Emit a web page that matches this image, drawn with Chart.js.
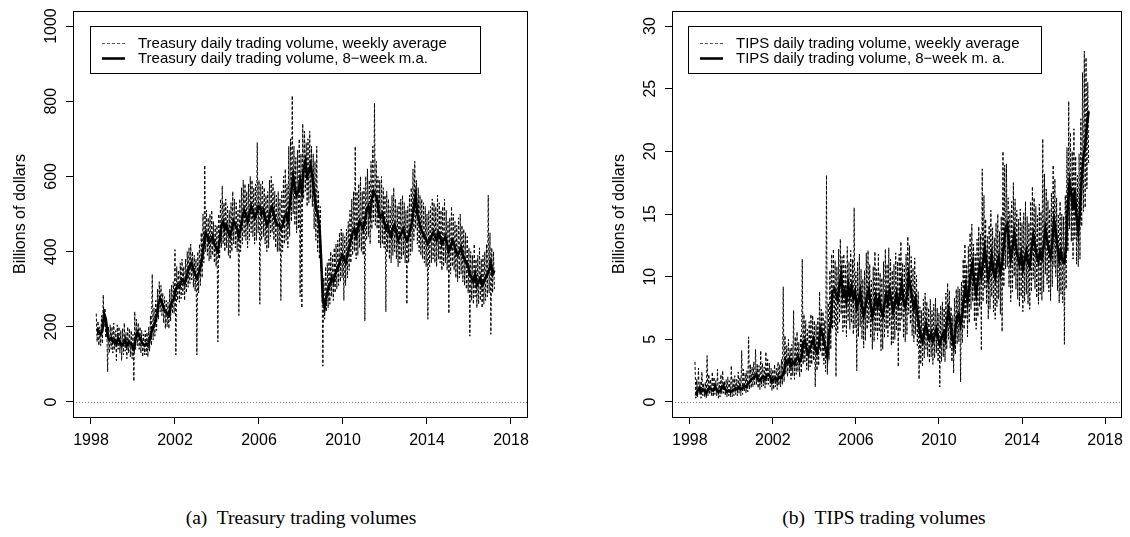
<!DOCTYPE html>
<html>
<head>
<meta charset="utf-8">
<script src="https://cdn.jsdelivr.net/npm/chart.js@4.4.1/dist/chart.umd.min.js"></script>
<style>
  html, body { margin: 0; padding: 0; background: #ffffff; }
  #wrap { position: relative; width: 1130px; height: 537px; overflow: hidden; background: #fff; }
  .panel { position: absolute; top: 0; height: 470px; }
  #p1 { left: 0; width: 560px; }
  #p2 { left: 560px; width: 570px; }
  .cap { position: absolute; top: 506px; font-family: "Liberation Serif", "DejaVu Serif", serif; font-size: 19.5px; line-height: 24px; color: #000; text-align: center; white-space: nowrap; }
  #cap1 { left: 0; width: 602px; }
  #cap2 { left: 638px; width: 492px; }
</style>
</head>
<body>
<div id="wrap">
  <div class="panel" id="p1"><canvas id="c1" width="560" height="470"></canvas></div>
  <div class="panel" id="p2"><canvas id="c2" width="570" height="470"></canvas></div>
  <div class="cap" id="cap1">(a)&nbsp; Treasury trading volumes</div>
  <div class="cap" id="cap2">(b)&nbsp; TIPS trading volumes</div>
</div>
<script>
// ---------------- DATA (monthly, April 1998 - March 2017) ----------------
const firstMonth = 1998 + 3 / 12;   // April 1998
const xTicks = [1998, 2002, 2006, 2010, 2014, 2018];
const tsyYTicks = [0, 200, 400, 600, 800, 1000];
const tipsYTicks = [0, 5, 10, 15, 20, 25, 30];
const tsyLabels = ["Treasury daily trading volume, weekly average", "Treasury daily trading volume, 8\u2212week m.a."];
const tipsLabels = ["TIPS daily trading volume, weekly average", "TIPS daily trading volume, 8\u2212week m. a."];
const yTitle = "Billions of dollars";

// Treasury: 8-week moving average
const tsyMA = [
  195,185,180,190,235,220,175,165,170,
  160,165,155,170,160,150,155,165,150,160,155,150,
  140,170,185,175,165,155,150,155,150,165,185,200,
  210,230,260,275,265,250,240,235,230,255,270,275,
  300,310,305,320,325,315,330,350,360,370,350,340,
  330,340,360,380,420,450,440,425,430,440,420,410,
  400,430,470,480,460,470,450,440,460,480,470,460,
  440,460,490,510,500,480,500,520,510,490,500,520,
  520,500,510,490,470,480,510,520,500,480,470,470,
  460,470,490,500,480,520,560,600,570,550,560,590,
  560,620,640,600,610,630,600,560,520,500,470,380,
  270,250,280,300,310,330,320,340,350,360,380,390,
  380,370,390,410,430,450,460,440,460,480,470,460,
  480,510,520,500,540,560,550,540,500,490,500,480,
  460,470,450,440,460,470,450,430,440,450,460,440,
  430,440,460,480,520,550,500,480,460,450,440,430,
  420,430,440,450,440,430,450,440,420,430,440,420,
  400,410,430,420,400,390,400,410,390,380,370,360,
  340,330,320,340,310,320,330,310,320,330,340,350,
  370,340,350
];
// Treasury: weekly averages (highest and lowest week in each month)
const tsyWeekHi = [
  235,215,200,230,285,250,210,200,205,
  200,210,190,205,200,190,195,210,185,200,195,190,
  180,240,220,210,200,190,180,190,185,200,230,340,
  250,270,300,320,310,290,280,270,265,300,310,320,
  405,360,350,370,380,360,380,400,410,420,400,390,
  380,400,420,450,500,630,510,490,500,510,480,470,
  470,500,540,575,530,540,520,510,530,560,540,530,
  510,540,570,590,580,560,580,600,590,570,580,690,
  590,580,590,570,550,560,590,600,580,560,550,560,
  540,560,600,620,580,680,700,815,680,650,670,700,
  660,740,720,690,700,720,680,660,640,680,560,520,
  340,330,360,370,380,400,390,410,420,430,450,460,
  450,440,460,480,510,540,560,680,560,580,600,560,
  570,600,620,590,640,680,795,640,600,590,600,570,
  550,560,540,520,550,570,540,520,530,540,550,530,
  510,520,550,570,620,640,590,570,550,540,530,520,
  500,510,520,540,530,520,550,530,510,520,540,510,
  480,490,520,500,480,470,490,500,470,460,450,440,
  410,400,390,420,380,390,410,380,390,400,420,550,
  450,410,400
];
const tsyWeekLo = [
  160,150,150,155,200,170,80,130,140,
  130,140,110,140,130,110,125,135,115,130,120,115,
  55,140,150,140,130,120,125,125,120,135,150,165,
  175,190,220,240,230,210,195,200,195,215,235,235,
  125,270,265,275,285,270,290,305,315,325,305,295,
  125,290,310,330,370,400,390,375,380,390,370,360,
  160,380,410,420,400,410,390,380,400,420,410,400,
  230,400,420,440,430,410,430,450,440,420,430,450,
  260,430,440,420,400,410,440,450,430,410,400,400,
  270,400,420,430,410,440,480,500,470,450,460,280,
  250,540,560,520,530,540,520,460,430,400,380,350,
  95,220,240,250,260,280,270,290,300,310,320,330,
  270,310,330,350,370,390,400,380,390,410,400,390,
  215,430,440,420,460,480,470,460,420,410,420,410,
  240,400,380,370,390,400,380,360,370,380,390,370,
  260,370,390,400,430,460,420,400,390,380,370,360,
  220,360,370,380,370,360,380,370,350,360,370,350,
  235,340,360,350,330,320,330,340,320,310,300,290,
  175,270,260,280,250,260,270,250,260,270,280,290,
  180,290,300
];

// TIPS: 8-week moving average
const tipsMA = [
  0.5,0.9,1.1,0.8,1.0,0.9,0.7,1.0,1.1,
  1.0,0.9,1.2,1.0,0.8,0.9,1.1,1.3,1.0,0.8,0.9,0.8,
  0.9,1.0,1.1,1.0,1.2,1.0,1.1,1.3,1.2,1.4,1.6,1.8,
  1.9,2.0,2.2,1.8,1.7,1.9,2.0,1.8,2.1,2.2,2.0,1.6,
  1.8,1.9,1.7,2.0,1.9,2.1,2.4,3.3,3.1,3.4,2.9,3.2,
  3.0,3.4,3.6,3.2,3.5,4.8,4.9,4.2,3.8,4.3,4.6,5.0,
  4.2,3.9,4.4,5.9,5.5,4.8,4.3,3.6,5.5,6.2,8.8,9.0,
  8.6,8.2,9.3,10.2,8.5,8.9,8.0,9.4,8.5,9.2,8.3,8.8,
  7.5,8.0,8.8,7.7,6.9,7.6,8.5,9.0,7.8,6.8,7.5,8.4,
  7.6,8.3,7.4,6.9,7.8,8.6,7.9,8.9,8.1,7.2,7.8,8.6,
  7.8,8.5,9.5,8.0,7.6,8.4,10.1,9.2,8.3,7.5,8.2,7.0,
  6.0,5.2,4.8,5.6,6.2,5.4,5.0,5.5,4.9,5.3,5.8,5.1,
  4.6,5.1,5.5,5.0,6.2,7.3,6.5,5.2,4.5,5.8,6.8,7.0,
  6.2,7.0,8.4,9.3,8.0,9.1,10.4,11.1,9.4,8.6,9.8,10.8,
  10.0,11.2,12.3,11.0,9.8,10.6,11.7,10.4,9.9,10.9,11.5,10.3,
  11.0,12.5,13.9,14.2,12.6,11.4,12.2,13.5,12.4,11.6,11.0,11.8,
  10.6,11.3,12.0,11.1,10.8,12.2,13.3,12.5,11.7,11.2,12.0,11.5,
  12.4,13.8,12.9,12.2,11.6,12.7,14.5,13.6,12.4,11.3,12.0,11.2,
  11.1,12.5,15.8,17.5,16.6,15.3,16.9,14.8,13.6,15.2,17.9,19.5,
  20.4,22.1,23.2
];
// TIPS: weekly averages (highest and lowest week in each month)
const tipsWeekHi = [
  3.2,1.8,2.7,1.6,2.4,1.5,1.6,3.7,2.2,
  1.8,2.4,2.0,1.7,2.6,1.6,2.2,2.5,1.7,1.8,2.0,1.7,
  2.9,1.9,2.1,1.8,2.4,2.0,4.1,2.6,2.3,2.5,5.2,3.0,
  2.8,3.2,4.2,3.0,2.9,4.1,3.1,2.8,4.0,3.4,3.1,2.7,
  2.6,3.0,2.7,3.2,3.0,3.4,9.2,5.3,4.5,5.0,4.3,4.6,
  7.3,5.2,5.6,4.8,5.3,11.4,7.0,6.5,5.8,6.4,7.0,6.9,
  6.5,6.2,6.7,8.8,7.4,7.2,6.5,18.1,7.9,10.5,11.8,12.2,
  11.3,10.8,12.2,13.0,11.6,11.8,11.0,12.4,11.2,12.1,11.4,15.5,
  10.4,11.2,11.8,10.6,9.8,10.5,11.9,12.1,11.0,9.7,10.8,12.0,
  10.6,11.8,10.3,9.9,11.2,12.2,11.0,12.3,11.4,10.5,11.0,11.9,
  11.2,11.8,12.8,11.1,10.9,11.8,13.2,12.5,11.6,10.7,11.5,10.1,
  8.8,7.6,7.3,8.2,8.7,8.0,7.5,8.2,7.3,7.8,8.3,7.5,
  7.1,7.7,8.0,7.5,8.7,9.5,8.9,7.6,6.9,8.3,9.0,9.2,
  9.0,9.6,11.4,12.6,11.0,12.4,13.5,14.2,12.6,11.8,13.0,14.0,
  13.4,18.6,16.5,14.6,13.2,14.1,15.3,13.9,13.1,14.3,15.0,13.6,
  14.8,20.0,18.9,19.0,16.3,15.2,16.0,17.5,16.2,15.3,14.6,15.4,
  14.3,15.1,16.0,14.8,14.3,16.0,17.2,16.3,15.6,14.9,15.8,15.2,
  21.0,18.2,17.0,16.1,15.4,16.7,18.9,17.8,16.3,15.0,16.0,15.0,
  14.8,16.5,20.3,24.0,21.5,20.0,21.8,19.6,18.1,19.8,22.6,26.3,
  28.0,27.5,25.5
];
const tipsWeekLo = [
  0.3,0.4,0.6,0.3,0.5,0.4,0.3,0.5,0.6,
  0.5,0.4,0.6,0.5,0.3,0.4,0.6,0.7,0.5,0.4,0.5,0.4,
  0.4,0.5,0.6,0.5,0.7,0.5,0.6,0.8,0.7,0.8,1.0,1.1,
  1.2,1.3,1.4,1.1,1.0,1.2,1.3,1.1,1.4,1.4,1.2,0.9,
  1.0,1.2,1.0,1.3,1.2,1.4,1.6,2.2,2.0,2.3,1.8,2.1,
  1.8,2.2,2.4,2.0,2.3,3.0,3.2,2.6,2.5,2.8,3.0,3.3,
  1.2,2.5,2.9,4.0,3.6,3.0,2.4,2.2,3.4,4.2,5.8,6.0,
  2.0,5.5,6.3,7.0,5.6,6.0,5.2,6.5,5.8,6.3,5.4,5.9,
  2.5,5.2,6.0,5.0,4.3,4.9,5.8,6.3,5.1,4.2,4.8,5.6,
  5.0,5.6,4.1,4.2,5.1,5.8,5.2,6.0,4.5,4.7,5.0,5.7,
  2.8,5.6,6.6,5.1,4.8,5.4,7.0,6.2,5.3,4.8,5.4,4.5,
  1.8,3.0,2.8,3.5,4.2,3.6,3.1,3.6,3.0,3.5,3.9,3.2,
  1.2,3.2,3.6,3.2,4.2,5.0,4.3,3.2,2.3,3.8,4.6,4.8,
  1.6,4.7,5.8,6.6,5.2,6.3,7.4,8.0,6.4,5.8,6.8,7.6,
  4.1,8.0,9.0,7.8,6.6,7.4,8.4,7.2,6.6,7.6,8.2,7.0,
  5.6,9.2,10.6,10.8,9.2,8.0,8.8,10.0,9.0,8.2,7.6,8.4,
  7.2,8.0,8.6,7.8,7.4,8.8,9.8,9.0,8.3,7.8,8.6,8.1,
  8.8,10.2,9.4,8.8,8.1,9.2,10.8,10.0,8.9,7.9,8.6,7.9,
  4.6,9.0,12.0,13.8,12.8,11.4,13.0,11.0,10.8,11.4,14.0,15.2,
  15.5,17.0,19.0
];

// ---------------- BUILD ----------------
function monthX(i) { return firstMonth + i / 12; }
function weeklyPoints(hi, lo) {
  const pts = [];
  for (let i = 0; i < hi.length; i++) {
    pts.push({ x: monthX(i), y: hi[i] });
    pts.push({ x: monthX(i) + 1 / 24, y: lo[i] });
  }
  return pts;
}
function maPoints(ma) { return ma.map((v, i) => ({ x: monthX(i) + 1 / 24, y: v })); }

const FONT = '"Liberation Sans", Arial, Helvetica, sans-serif';

const rStyle = {
  id: 'rStyle',
  afterDatasetsDraw(chart, args, opts) {
    const ctx = chart.ctx, a = chart.chartArea, ys = chart.scales.y;
    ctx.save();
    // dotted zero line
    const y0 = Math.round(ys.getPixelForValue(0)) + 0.5;
    ctx.strokeStyle = '#777';
    ctx.lineWidth = 1;
    ctx.setLineDash([1, 2]);
    ctx.beginPath(); ctx.moveTo(a.left, y0); ctx.lineTo(a.right, y0); ctx.stroke();
    ctx.setLineDash([]);
    // box
    ctx.strokeStyle = '#000';
    ctx.lineWidth = 1;
    ctx.strokeRect(Math.round(a.left) + 0.5, Math.round(a.top) + 0.5, Math.round(a.right - a.left), Math.round(a.bottom - a.top));
    // rotated y tick labels
    ctx.fillStyle = '#000';
    ctx.font = '16px ' + FONT;
    ctx.textAlign = 'center';
    ctx.textBaseline = 'alphabetic';
    opts.yTicks.forEach(v => {
      const py = ys.getPixelForValue(v);
      ctx.save();
      ctx.translate(a.left - opts.tickLabelGap, py);
      ctx.rotate(-Math.PI / 2);
      ctx.fillText(String(v), 0, 0);
      ctx.restore();
    });
    // y title
    ctx.save();
    ctx.translate(a.left - opts.titleGap, (a.top + a.bottom) / 2);
    ctx.rotate(-Math.PI / 2);
    ctx.fillText(opts.title, 0, 0);
    ctx.restore();
    // legend box
    const L = opts.legend;
    ctx.fillStyle = '#fff';
    ctx.fillRect(L.x, L.y, L.w, L.h);
    ctx.strokeStyle = '#000';
    ctx.strokeRect(L.x + 0.5, L.y + 0.5, L.w, L.h);
    ctx.font = '15px ' + FONT;
    ctx.fillStyle = '#000';
    ctx.textAlign = 'left';
    ctx.textBaseline = 'middle';
    const ds = chart.data.datasets;
    const rows = [ds[1], ds[0]];
    rows.forEach((d, k) => {
      const cy = L.y + 17 + k * 15;
      ctx.save();
      ctx.strokeStyle = k === 0 ? '#555' : d.borderColor;
      ctx.lineWidth = d.borderWidth;
      ctx.setLineDash(d.borderDash || []);
      ctx.beginPath(); ctx.moveTo(L.x + 12, cy + 0.5); ctx.lineTo(L.x + 35, cy + 0.5); ctx.stroke();
      ctx.restore();
      ctx.fillText(d.label, L.x + 48, cy + 1);
    });
    ctx.restore();
  }
};

function makeChart(id, cfg) {
  return new Chart(document.getElementById(id), {
    type: 'line',
    data: {
      datasets: [
        { label: cfg.labels[1], data: maPoints(cfg.ma), borderColor: '#000', borderWidth: 2.6, pointRadius: 0, tension: 0, order: 0 },
        { label: cfg.labels[0], data: weeklyPoints(cfg.hi, cfg.lo), borderColor: '#000', borderWidth: 1, borderDash: [3, 2], pointRadius: 0, tension: 0, order: 1 }
      ]
    },
    options: {
      responsive: false,
      animation: false,
      events: [],
      layout: { padding: { top: 11, right: cfg.padRight, bottom: 0, left: 0 } },
      plugins: {
        legend: { display: false }, tooltip: { enabled: false },
        rStyle: { yTicks: cfg.yTicks, title: yTitle, tickLabelGap: 17, titleGap: 48, legend: cfg.legend }
      },
      scales: {
        x: {
          type: 'linear', min: 1997.143, max: 2018.762,
          afterFit: s => { s.height = 53; },
          afterBuildTicks: s => { s.ticks = xTicks.map(v => ({ value: v })); },
          border: { display: false },
          grid: { drawOnChartArea: false, drawTicks: true, tickLength: 7, color: '#000', lineWidth: 1 },
          ticks: { color: '#000', font: { family: FONT, size: 16 }, padding: 7, maxRotation: 0, callback: v => String(v) }
        },
        y: {
          type: 'linear', min: cfg.yMin, max: cfg.yMax,
          afterFit: s => { s.width = cfg.yWidth; },
          afterBuildTicks: s => { s.ticks = cfg.yTicks.map(v => ({ value: v })); },
          border: { display: false },
          grid: { drawOnChartArea: false, drawTicks: true, tickLength: 7, color: '#000', lineWidth: 1 },
          ticks: { display: false }
        }
      }
    },
    plugins: [rStyle]
  });
}

makeChart('c1', {
  labels: tsyLabels, ma: tsyMA, hi: tsyWeekHi, lo: tsyWeekLo,
  yTicks: tsyYTicks, yMin: -40, yMax: 1040, yWidth: 73, padRight: 33,
  legend: { x: 90, y: 26, w: 390, h: 47 }
});
makeChart('c2', {
  labels: tipsLabels, ma: tipsMA, hi: tipsWeekHi, lo: tipsWeekLo,
  yTicks: tipsYTicks, yMin: -1.2, yMax: 31.2, yWidth: 112, padRight: 4,
  legend: { x: 128, y: 26, w: 353, h: 47 }
});
</script>
</body>
</html>
